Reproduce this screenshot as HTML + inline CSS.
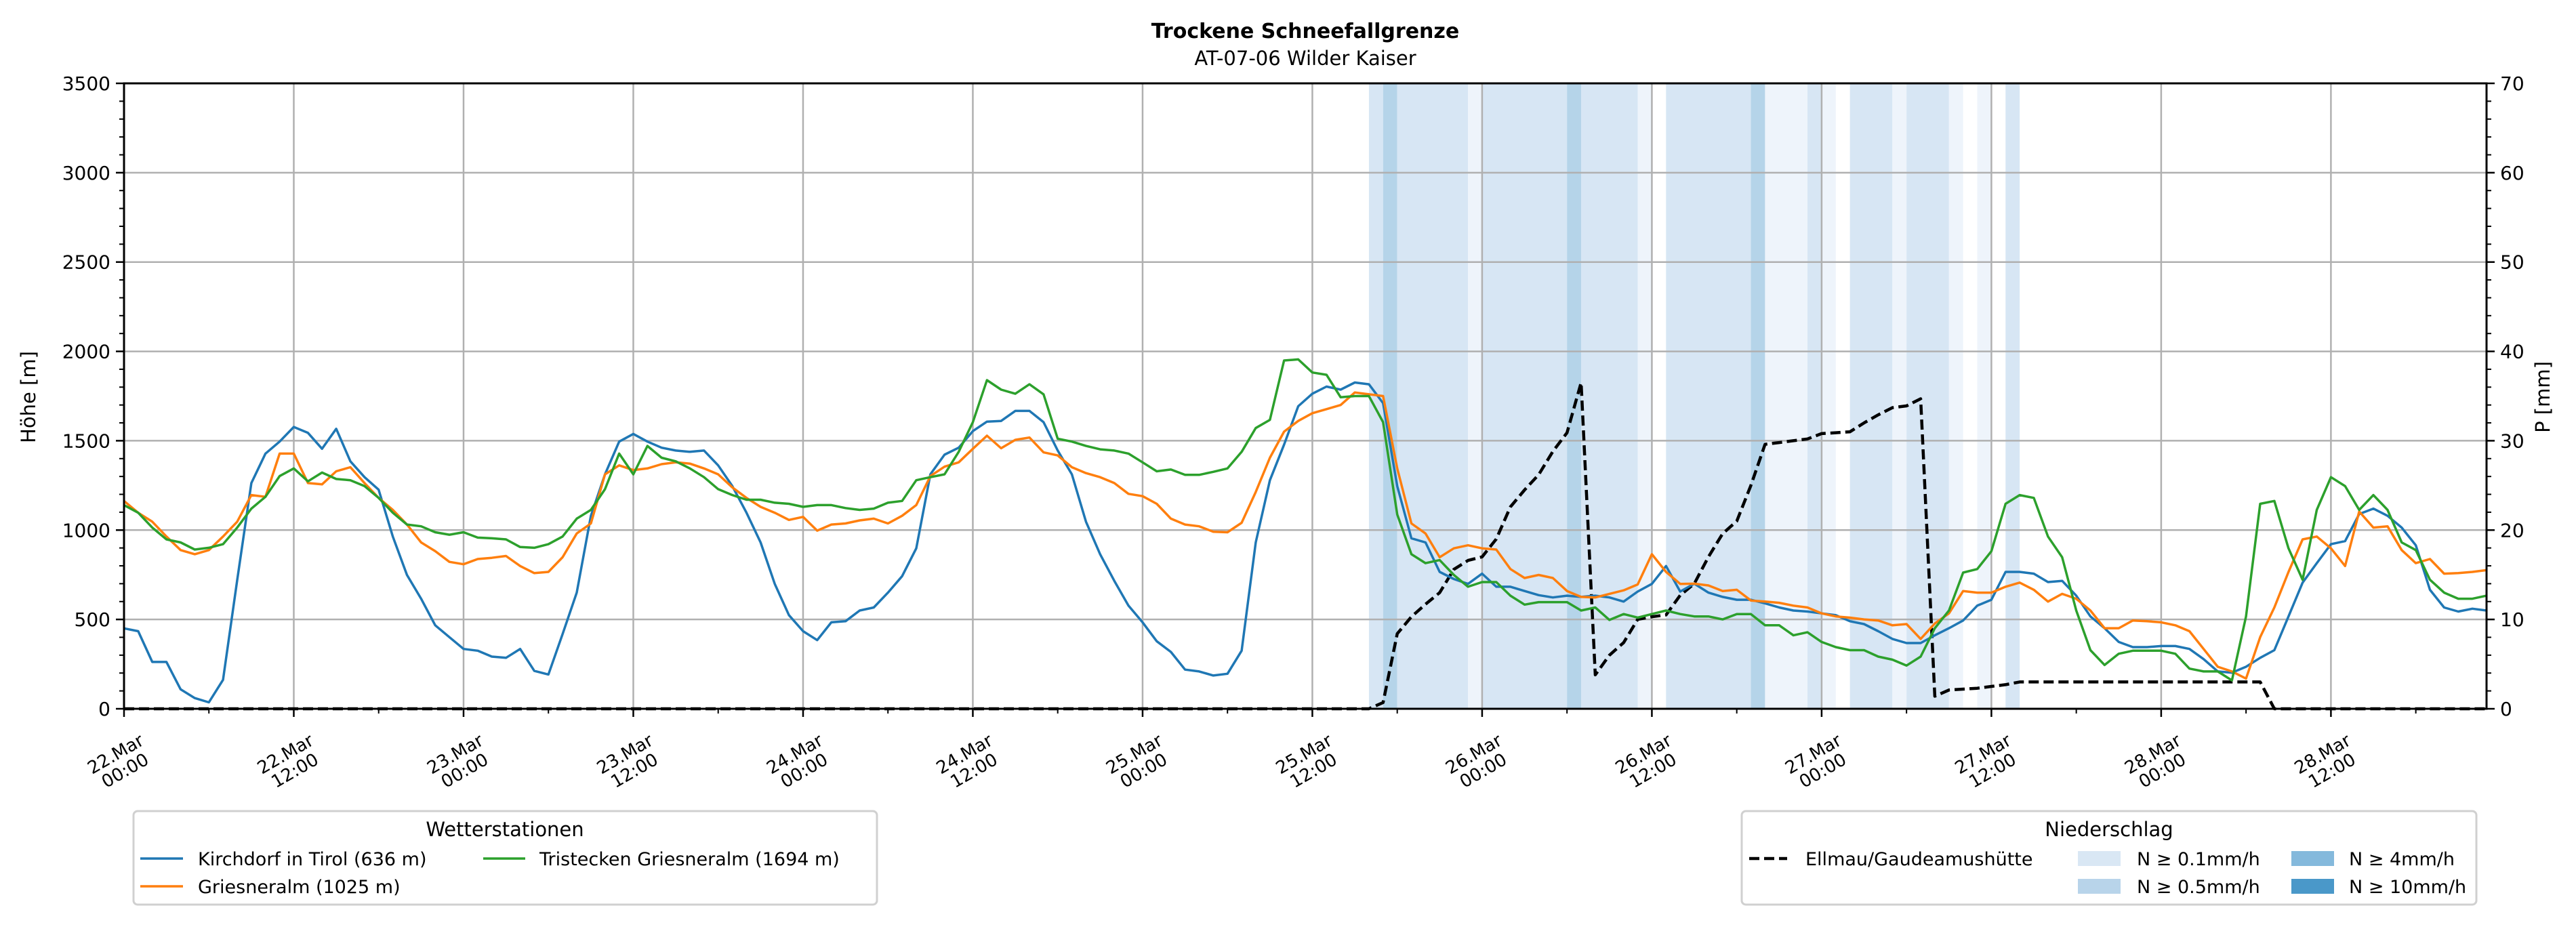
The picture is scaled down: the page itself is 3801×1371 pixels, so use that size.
<!DOCTYPE html>
<html><head><meta charset="utf-8">
<style>
body{margin:0;background:#fff;}
svg{display:block;font-family:"DejaVu Sans","Liberation Sans",sans-serif;}
</style></head>
<body>
<svg id="chart" width="3801" height="1371" viewBox="0 0 3801 1371" xmlns="http://www.w3.org/2000/svg">
<rect width="3801" height="1371" fill="#fff"/>
<text x="1926" y="56" font-size="30" font-weight="bold" text-anchor="middle">Trockene Schneefallgrenze</text>
<text x="1926" y="96" font-size="29" text-anchor="middle">AT-07-06 Wilder Kaiser</text>
<g id="bands"></g><g id="grid"></g><g id="series"></g><g id="axes"></g>
<text transform="translate(52,586) rotate(-90)" font-size="29" text-anchor="middle">Höhe [m]</text>
<text transform="translate(3762,586) rotate(-90)" font-size="29" text-anchor="middle">P [mm]</text>
<g>
<rect x="197" y="1197" width="1097" height="138" rx="6" fill="#fff" stroke="#d0d0d0" stroke-width="3"/>
<text x="745" y="1234" font-size="29" text-anchor="middle">Wetterstationen</text>
<line x1="207" y1="1267" x2="270" y2="1267" stroke="#1f77b4" stroke-width="3.5"/>
<text x="292" y="1277" font-size="27">Kirchdorf in Tirol (636 m)</text>
<line x1="207" y1="1308" x2="270" y2="1308" stroke="#ff7f0e" stroke-width="3.5"/>
<text x="292" y="1318" font-size="27">Griesneralm (1025 m)</text>
<line x1="713" y1="1267" x2="775" y2="1267" stroke="#2ca02c" stroke-width="3.5"/>
<text x="796" y="1277" font-size="27">Tristecken Griesneralm  (1694 m)</text>
</g>
<g>
<rect x="2570" y="1197" width="1084" height="138" rx="6" fill="#fff" stroke="#d0d0d0" stroke-width="3"/>
<text x="3112" y="1234" font-size="29" text-anchor="middle">Niederschlag</text>
<line x1="2581" y1="1267" x2="2637" y2="1267" stroke="#000" stroke-width="4.5" stroke-dasharray="15,7"/>
<text x="2664" y="1277" font-size="27">Ellmau/Gaudeamushütte</text>
<rect x="3066" y="1256" width="63" height="22" fill="#d9e7f4"/>
<text x="3153" y="1277" font-size="27">N ≥ 0.1mm/h</text>
<rect x="3066" y="1297" width="63" height="22" fill="#b8d4ea"/>
<text x="3153" y="1318" font-size="27">N ≥ 0.5mm/h</text>
<rect x="3381" y="1256" width="63" height="22" fill="#84b9dc"/>
<text x="3466" y="1277" font-size="27">N ≥ 4mm/h</text>
<rect x="3381" y="1297" width="63" height="22" fill="#4a98c9"/>
<text x="3466" y="1318" font-size="27">N ≥ 10mm/h</text>
</g>
</svg>
<script>
const kirchdorf=[450,434,262,262,109,60,36,162,720,1263,1428,1495,1577,1544,1455,1567,1385,1296,1226,964,749,616,467,401,335,325,292,285,335,212,192,418,650,1080,1312,1495,1538,1495,1461,1445,1438,1445,1362,1246,1097,931,699,524,434,384,484,490,550,567,650,742,898,1312,1422,1461,1554,1607,1611,1667,1667,1604,1445,1312,1047,865,716,577,484,378,318,219,209,186,196,325,931,1279,1478,1693,1763,1803,1786,1826,1816,1710,1246,954,931,766,726,699,756,683,683,659,636,623,633,626,633,623,600,656,699,799,656,700,650,626,610,610,590,567,550,544,534,524,490,474,434,391,368,368,411,451,494,577,610,766,766,756,709,716,633,517,451,374,345,345,351,351,335,278,209,202,235,285,328,517,706,815,921,938,1090,1120,1080,1014,915,666,567,544,560,550];
const griesneralm=[1163,1097,1047,964,888,865,888,964,1047,1196,1186,1428,1428,1263,1256,1329,1352,1263,1180,1113,1031,931,882,822,809,838,845,855,799,759,766,848,981,1037,1312,1362,1336,1345,1369,1379,1372,1345,1312,1239,1180,1130,1097,1057,1074,997,1031,1037,1054,1064,1037,1080,1140,1302,1355,1379,1455,1528,1458,1505,1518,1435,1418,1352,1319,1296,1263,1203,1190,1147,1064,1031,1021,991,988,1041,1213,1405,1551,1611,1654,1677,1700,1770,1760,1750,1345,1037,981,848,898,915,898,891,782,732,749,732,659,626,623,643,663,696,865,766,699,700,690,659,666,606,600,593,577,567,534,517,510,500,494,467,474,391,477,534,659,650,650,683,706,666,600,643,616,550,451,451,494,490,484,467,434,335,235,209,169,401,567,766,948,964,898,799,1104,1014,1021,888,815,838,756,759,766,776];
const tristecken=[1140,1097,1014,948,931,891,901,921,1014,1120,1186,1302,1345,1273,1322,1286,1279,1246,1180,1097,1031,1021,988,974,988,958,954,948,905,901,921,964,1064,1113,1229,1428,1312,1471,1405,1385,1345,1296,1229,1196,1170,1170,1153,1147,1130,1140,1140,1123,1113,1120,1153,1163,1279,1296,1312,1438,1604,1839,1786,1763,1816,1760,1511,1495,1471,1452,1445,1428,1379,1329,1339,1309,1309,1326,1345,1438,1571,1617,1949,1955,1882,1869,1743,1750,1750,1604,1087,865,815,832,749,683,709,709,633,583,597,597,597,550,567,497,530,510,530,550,530,517,517,500,530,530,467,467,411,428,374,345,328,328,292,275,242,292,451,550,762,782,882,1147,1196,1180,964,848,550,328,245,308,325,325,325,308,225,209,209,159,517,1147,1163,898,722,1113,1296,1246,1113,1196,1113,931,888,722,650,616,616,633];
const precip=[0,0,0,0,0,0,0,0,0,0,0,0,0,0,0,0,0,0,0,0,0,0,0,0,0,0,0,0,0,0,0,0,0,0,0,0,0,0,0,0,0,0,0,0,0,0,0,0,0,0,0,0,0,0,0,0,0,0,0,0,0,0,0,0,0,0,0,0,0,0,0,0,0,0,0,0,0,0,0,0,0,0,0,0,0,0,0,0,0,0.7,8.4,10.3,11.7,13,15.6,16.6,17,19,22.6,24.5,26.2,28.8,30.9,36.5,3.8,6.0,7.4,10,10.3,10.5,12.7,14,17,19.6,21,25,29.6,29.8,30,30.2,30.8,30.9,31,32,32.9,33.7,33.9,34.7,1.4,2.1,2.2,2.3,2.5,2.7,3,3,3,3,3,3,3,3,3,3,3,3,3,3,3,3,3,3,0,0,0,0,0,0,0,0,0,0,0,0,0,0,0,0];
const bandStart=[88,89,90,95,96,102,103,107,109,115,116,119,120,122,125,126,129,131,133];
const bandEnd=[89,90,95,96,102,103,107,108,115,116,119,120,121,125,126,129,130,132,134];
const bandLevel=[1,2,1,0,1,2,1,0,1,2,0,1,0,1,0,1,0,0,1];
const yTicks=[0,500,1000,1500,2000,2500,3000,3500];
const pTicks=[0,10,20,30,40,50,60,70];
const xTickDays=["22.Mar","22.Mar","23.Mar","23.Mar","24.Mar","24.Mar","25.Mar","25.Mar","26.Mar","26.Mar","27.Mar","27.Mar","28.Mar","28.Mar"];
const xTickTimes=["00:00","12:00","00:00","12:00","00:00","12:00","00:00","12:00","00:00","12:00","00:00","12:00","00:00","12:00"];

const NS="http://www.w3.org/2000/svg";
const L=183,R=3669,T=123,B=1046,HMAX=167;
const xS=h=>L+h*(R-L)/HMAX;
const yS=v=>B-v*(B-T)/3500;
const pS=p=>B-p*(B-T)/70;
function mk(tag,attrs,parent){const e=document.createElementNS(NS,tag);for(const k in attrs)e.setAttribute(k,attrs[k]);parent.appendChild(e);return e;}
const bandColors=["#eef4fb","#d7e6f4","#b5d4e9"];
const gB=document.getElementById('bands');
bandStart.forEach((s,i)=>{
  const r=mk('rect',{x:xS(s),y:T,width:xS(bandEnd[i])-xS(s),height:B-T,fill:bandColors[bandLevel[i]]},gB);
  
  
});
const gG=document.getElementById('grid');
yTicks.forEach(v=>{const l=mk('line',{x1:L,x2:R,y1:yS(v),y2:yS(v),stroke:'#b0b0b0','stroke-width':2.5},gG);
  });
xTickDays.forEach((d,i)=>{const x=xS(i*12);const l=mk('line',{x1:x,x2:x,y1:T,y2:B,stroke:'#b0b0b0','stroke-width':2.5},gG);
  });
const gS=document.getElementById('series');
function poly(arr,sc,color,name,extra){
  const pts=arr.map((v,i)=>xS(i).toFixed(1)+','+sc(v).toFixed(1)).join(' ');
  const p=mk('polyline',Object.assign({points:pts,fill:'none',stroke:color,'stroke-width':3.5,'stroke-linejoin':'round'},extra||{}),gS);
  
  
}
poly(precip,pS,'#000','precip-ellmau-line',{'stroke-width':4.5,'stroke-dasharray':'15,7'});
poly(kirchdorf,yS,'#1f77b4','kirchdorf-line');
poly(griesneralm,yS,'#ff7f0e','griesneralm-line');
poly(tristecken,yS,'#2ca02c','tristecken-line');
const gA=document.getElementById('axes');
mk('rect',{x:L,y:T,width:R-L,height:B-T,fill:'none',stroke:'#000','stroke-width':3},gA);
yTicks.forEach(v=>{mk('line',{x1:L-12,x2:L,y1:yS(v),y2:yS(v),stroke:'#000','stroke-width':2.5},gA);
  const t=mk('text',{x:L-20,y:yS(v)+10,'font-size':28,'text-anchor':'end'},gA);t.textContent=v;
  });
for(let v=0;v<=3500;v+=100){if(v%500)mk('line',{x1:L-7,x2:L,y1:yS(v),y2:yS(v),stroke:'#000','stroke-width':2},gA);}
pTicks.forEach(v=>{mk('line',{x1:R,x2:R+12,y1:pS(v),y2:pS(v),stroke:'#000','stroke-width':2.5},gA);
  const t=mk('text',{x:R+20,y:pS(v)+10,'font-size':28,'text-anchor':'start'},gA);t.textContent=v;
  });
for(let v=0;v<=70;v+=2){if(v%10)mk('line',{x1:R,x2:R+7,y1:pS(v),y2:pS(v),stroke:'#000','stroke-width':2},gA);}
xTickDays.forEach((d,i)=>{const x=xS(i*12);
  mk('line',{x1:x,x2:x,y1:B,y2:B+12,stroke:'#000','stroke-width':2.5},gA);
  mk('line',{x1:xS(i*12+6),x2:xS(i*12+6),y1:B,y2:B+7,stroke:'#000','stroke-width':2},gA);
  const t=mk('text',{transform:`translate(${x-6},1124) rotate(-30)`,'font-size':26,'text-anchor':'middle'},gA);
  
  const a=mk('tspan',{x:0,y:-4},t);a.textContent=d;
  const b=mk('tspan',{x:0,y:24},t);b.textContent=xTickTimes[i];
});
</script>
</body></html>
